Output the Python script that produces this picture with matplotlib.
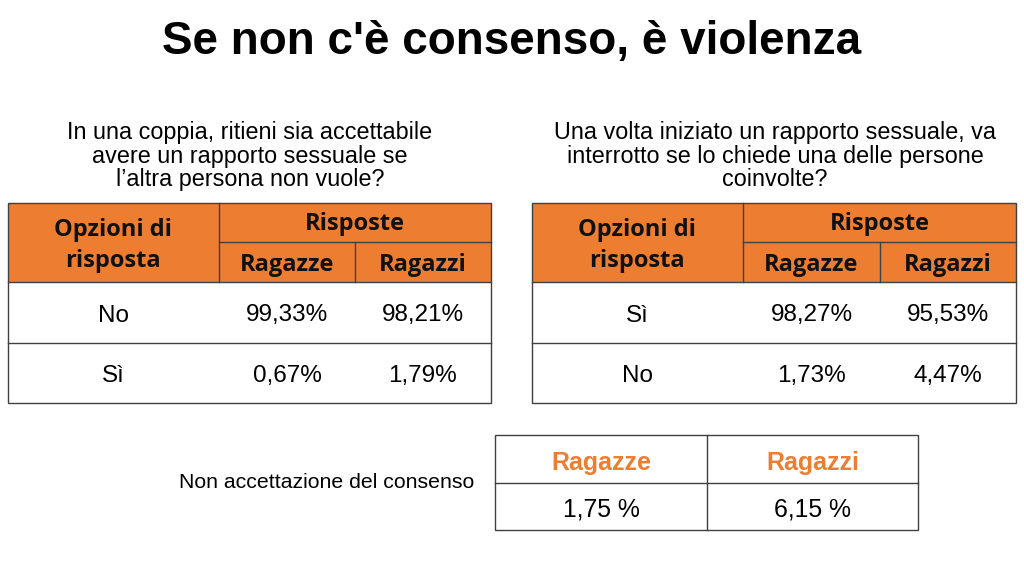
import matplotlib.pyplot as plt
from matplotlib import patches

plt.rcParams['font.family'] = ['Liberation Sans', 'DejaVu Sans']

title = "Se non c'è consenso, è violenza"

q_left = "In una coppia, ritieni sia accettabile\navere un rapporto sessuale se\nl’altra persona non vuole?"
q_right = "Una volta iniziato un rapporto sessuale, va\ninterrotto se lo chiede una delle persone\ncoinvolte?"

groups = ["Ragazze", "Ragazzi"]

left_options = ["No", "Sì"]
left_ragazze = ["99,33%", "0,67%"]
left_ragazzi = ["98,21%", "1,79%"]

right_options = ["Sì", "No"]
right_ragazze = ["98,27%", "1,73%"]
right_ragazzi = ["95,53%", "4,47%"]

summary_label = "Non accettazione del consenso"
summary_values = ["1,75 %", "6,15 %"]

ORANGE = "#ED7D31"
EDGE = "#404040"


def draw_table(ax, x0, x1, x2, x3, options, col1, col2, question, qx):
    y_top, y_sub, y_body, y_mid, y_bot = 203, 242, 282, 343, 403
    # header block
    ax.add_patch(patches.Rectangle((x0, y_top), x3 - x0, y_body - y_top,
                                   facecolor=ORANGE, edgecolor="none"))
    ax.add_patch(patches.Rectangle((x0, y_top), x3 - x0, y_bot - y_top,
                                   facecolor="none", edgecolor=EDGE, lw=1))
    ax.plot([x1, x1], [y_top, y_body], color=EDGE, lw=1)
    ax.plot([x2, x2], [y_sub, y_body], color=EDGE, lw=1)
    ax.plot([x1, x3], [y_sub, y_sub], color=EDGE, lw=1)
    ax.plot([x0, x3], [y_body, y_body], color=EDGE, lw=1)
    ax.plot([x0, x3], [y_mid, y_mid], color=EDGE, lw=1)

    hfont = dict(fontsize=17, fontweight="bold", family=["Open Sans", "DejaVu Sans"],
                 ha="center", va="center", color="#111111")
    ax.text((x0 + x1) / 2 - 1, (y_top + y_body) / 2 + 3, "Opzioni di\nrisposta",
            linespacing=1.35, **hfont)
    ax.text((x1 + x3) / 2, (y_top + y_sub) / 2 + 2, "Risposte", **hfont)
    ax.text((x1 + x2) / 2, (y_sub + y_body) / 2 + 3, groups[0], **hfont)
    ax.text((x2 + x3) / 2, (y_sub + y_body) / 2 + 3, groups[1], **hfont)

    rows_y = [(y_body + y_mid) / 2 + 3, (y_mid + y_bot) / 2 + 3]
    for i, y in enumerate(rows_y):
        ax.text((x0 + x1) / 2, y, options[i], fontsize=17.5, ha="center", va="center")
        ax.text((x1 + x2) / 2, y, col1[i], fontsize=17.5, ha="center", va="center")
        ax.text((x2 + x3) / 2, y, col2[i], fontsize=17.5, ha="center", va="center")

    ax.text(qx, 156, question, fontsize=16.8, ha="center", va="center",
            linespacing=1.03)


fig = plt.figure(figsize=(10.24, 5.76), dpi=100)
ax = fig.add_axes([0, 0, 1, 1])
ax.set_xlim(0, 1024)
ax.set_ylim(576, 0)
ax.axis("off")

ax.text(512, 42, title, fontsize=33, fontweight="bold", ha="center", va="center")

draw_table(ax, 8, 219, 355, 491, left_options, left_ragazze, left_ragazzi, q_left, 250)
draw_table(ax, 532, 743, 880, 1016, right_options, right_ragazze, right_ragazzi, q_right, 775)

# summary table
sx0, sx1, sx2 = 495, 707, 918
sy0, sy1, sy2 = 435, 483, 530
ax.add_patch(patches.Rectangle((sx0, sy0), sx2 - sx0, sy2 - sy0,
                               facecolor="none", edgecolor=EDGE, lw=1))
ax.plot([sx1, sx1], [sy0, sy2], color=EDGE, lw=1)
ax.plot([sx0, sx2], [sy1, sy1], color=EDGE, lw=1)
for i, (xa, xb) in enumerate([(sx0, sx1), (sx1, sx2)]):
    ax.text((xa + xb) / 2, (sy0 + sy1) / 2 + 4, groups[i], fontsize=18,
            fontweight="bold", color=ORANGE, ha="center", va="center")
    ax.text((xa + xb) / 2, (sy1 + sy2) / 2 + 3, summary_values[i], fontsize=17.8,
            ha="center", va="center")
ax.text(327, 483, summary_label, fontsize=15.3, ha="center", va="center")

plt.savefig("out.png", dpi=100)
